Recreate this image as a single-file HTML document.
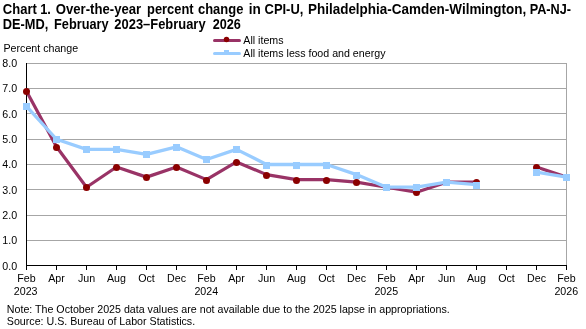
<!DOCTYPE html><html><head><meta charset="utf-8"><style>html,body{margin:0;padding:0;background:#fff;}svg{display:block;will-change:transform;}text{font-family:"Liberation Sans",sans-serif;fill:#000;}</style></head><body>
<svg width="586" height="329" viewBox="0 0 586 329">
<text x="2.87" y="14" font-size="13.75" font-weight="bold" textLength="33.99" lengthAdjust="spacingAndGlyphs">Chart</text>
<text x="40.19" y="14" font-size="13.75" font-weight="bold" textLength="10.66" lengthAdjust="spacingAndGlyphs">1.</text>
<text x="55.76" y="14" font-size="13.75" font-weight="bold" textLength="85.44" lengthAdjust="spacingAndGlyphs">Over-the-year</text>
<text x="147.05" y="14" font-size="13.75" font-weight="bold" textLength="46.51" lengthAdjust="spacingAndGlyphs">percent</text>
<text x="197.99" y="14" font-size="13.75" font-weight="bold" textLength="45.35" lengthAdjust="spacingAndGlyphs">change</text>
<text x="248.75" y="14" font-size="13.75" font-weight="bold" textLength="12.09" lengthAdjust="spacingAndGlyphs">in</text>
<text x="264.57" y="14" font-size="13.75" font-weight="bold" textLength="38.80" lengthAdjust="spacingAndGlyphs">CPI-U,</text>
<text x="308.00" y="14" font-size="13.75" font-weight="bold" textLength="218.20" lengthAdjust="spacingAndGlyphs">Philadelphia-Camden-Wilmington,</text>
<text x="529.67" y="14" font-size="13.75" font-weight="bold" textLength="41.43" lengthAdjust="spacingAndGlyphs">PA-NJ-</text>
<text x="2.84" y="28.7" font-size="13.75" font-weight="bold" textLength="45.51" lengthAdjust="spacingAndGlyphs">DE-MD,</text>
<text x="54.05" y="28.7" font-size="13.75" font-weight="bold" textLength="54.62" lengthAdjust="spacingAndGlyphs">February</text>
<text x="114.35" y="28.7" font-size="13.75" font-weight="bold" textLength="91.22" lengthAdjust="spacingAndGlyphs">2023–February</text>
<text x="212.66" y="28.7" font-size="13.75" font-weight="bold" textLength="28.09" lengthAdjust="spacingAndGlyphs">2026</text>
<text x="3.5" y="52" font-size="10.67">Percent change</text>
<rect x="27" y="240" width="540" height="1" fill="#A6A6A6"/>
<rect x="27" y="215" width="540" height="1" fill="#A6A6A6"/>
<rect x="27" y="189" width="540" height="1" fill="#A6A6A6"/>
<rect x="27" y="164" width="540" height="1" fill="#A6A6A6"/>
<rect x="27" y="139" width="540" height="1" fill="#A6A6A6"/>
<rect x="27" y="113" width="540" height="1" fill="#A6A6A6"/>
<rect x="27" y="88" width="540" height="1" fill="#A6A6A6"/>
<rect x="27" y="63" width="540" height="1" fill="#A6A6A6"/>
<rect x="566" y="63" width="1" height="202" fill="#A6A6A6"/>
<rect x="26" y="63" width="1" height="203" fill="#000"/>
<rect x="26" y="265" width="541" height="1" fill="#000"/>
<rect x="26" y="265" width="1" height="5" fill="#000"/>
<rect x="56" y="265" width="1" height="5" fill="#000"/>
<rect x="86" y="265" width="1" height="5" fill="#000"/>
<rect x="116" y="265" width="1" height="5" fill="#000"/>
<rect x="146" y="265" width="1" height="5" fill="#000"/>
<rect x="176" y="265" width="1" height="5" fill="#000"/>
<rect x="206" y="265" width="1" height="5" fill="#000"/>
<rect x="236" y="265" width="1" height="5" fill="#000"/>
<rect x="266" y="265" width="1" height="5" fill="#000"/>
<rect x="296" y="265" width="1" height="5" fill="#000"/>
<rect x="326" y="265" width="1" height="5" fill="#000"/>
<rect x="356" y="265" width="1" height="5" fill="#000"/>
<rect x="386" y="265" width="1" height="5" fill="#000"/>
<rect x="416" y="265" width="1" height="5" fill="#000"/>
<rect x="446" y="265" width="1" height="5" fill="#000"/>
<rect x="476" y="265" width="1" height="5" fill="#000"/>
<rect x="506" y="265" width="1" height="5" fill="#000"/>
<rect x="536" y="265" width="1" height="5" fill="#000"/>
<rect x="566" y="265" width="1" height="5" fill="#000"/>
<text x="17.2" y="270" font-size="10.67" text-anchor="end">0.0</text>
<text x="17.2" y="244" font-size="10.67" text-anchor="end">1.0</text>
<text x="17.2" y="219" font-size="10.67" text-anchor="end">2.0</text>
<text x="17.2" y="194" font-size="10.67" text-anchor="end">3.0</text>
<text x="17.2" y="168" font-size="10.67" text-anchor="end">4.0</text>
<text x="17.2" y="143" font-size="10.67" text-anchor="end">5.0</text>
<text x="17.2" y="118" font-size="10.67" text-anchor="end">6.0</text>
<text x="17.2" y="92" font-size="10.67" text-anchor="end">7.0</text>
<text x="17.2" y="67" font-size="10.67" text-anchor="end">8.0</text>
<text x="26.5" y="281.5" font-size="10.67" text-anchor="middle">Feb</text>
<text x="25.7" y="294.7" font-size="10.67" text-anchor="middle">2023</text>
<text x="56.5" y="281.5" font-size="10.67" text-anchor="middle">Apr</text>
<text x="86.5" y="281.5" font-size="10.67" text-anchor="middle">Jun</text>
<text x="116.5" y="281.5" font-size="10.67" text-anchor="middle">Aug</text>
<text x="146.5" y="281.5" font-size="10.67" text-anchor="middle">Oct</text>
<text x="176.5" y="281.5" font-size="10.67" text-anchor="middle">Dec</text>
<text x="206.5" y="281.5" font-size="10.67" text-anchor="middle">Feb</text>
<text x="206.3" y="294.7" font-size="10.67" text-anchor="middle">2024</text>
<text x="236.5" y="281.5" font-size="10.67" text-anchor="middle">Apr</text>
<text x="266.5" y="281.5" font-size="10.67" text-anchor="middle">Jun</text>
<text x="296.5" y="281.5" font-size="10.67" text-anchor="middle">Aug</text>
<text x="326.5" y="281.5" font-size="10.67" text-anchor="middle">Oct</text>
<text x="356.5" y="281.5" font-size="10.67" text-anchor="middle">Dec</text>
<text x="386.5" y="281.5" font-size="10.67" text-anchor="middle">Feb</text>
<text x="386.3" y="294.7" font-size="10.67" text-anchor="middle">2025</text>
<text x="416.5" y="281.5" font-size="10.67" text-anchor="middle">Apr</text>
<text x="446.5" y="281.5" font-size="10.67" text-anchor="middle">Jun</text>
<text x="476.5" y="281.5" font-size="10.67" text-anchor="middle">Aug</text>
<text x="506.5" y="281.5" font-size="10.67" text-anchor="middle">Oct</text>
<text x="536.5" y="281.5" font-size="10.67" text-anchor="middle">Dec</text>
<text x="566.5" y="281.5" font-size="10.67" text-anchor="middle">Feb</text>
<text x="566.3" y="294.7" font-size="10.67" text-anchor="middle">2026</text>
<polyline points="26.50,91.27 56.50,146.82 86.50,187.22 116.50,167.03 146.50,177.12 176.50,167.03 206.50,179.65 236.50,161.98 266.50,174.60 296.50,179.65 326.50,179.65 356.50,182.18 386.50,187.22 416.50,192.28 446.50,182.18 476.50,182.18" fill="none" stroke="#993366" stroke-width="3.2" stroke-linejoin="round"/>
<polyline points="536.50,167.03 566.50,177.12" fill="none" stroke="#993366" stroke-width="3.2" stroke-linejoin="round"/>
<circle cx="26.50" cy="91.50" r="3.5" fill="#8B0000"/>
<circle cx="56.50" cy="147.50" r="3.5" fill="#8B0000"/>
<circle cx="86.50" cy="187.50" r="3.5" fill="#8B0000"/>
<circle cx="116.50" cy="167.50" r="3.5" fill="#8B0000"/>
<circle cx="146.50" cy="177.50" r="3.5" fill="#8B0000"/>
<circle cx="176.50" cy="167.50" r="3.5" fill="#8B0000"/>
<circle cx="206.50" cy="180.50" r="3.5" fill="#8B0000"/>
<circle cx="236.50" cy="162.50" r="3.5" fill="#8B0000"/>
<circle cx="266.50" cy="175.50" r="3.5" fill="#8B0000"/>
<circle cx="296.50" cy="180.50" r="3.5" fill="#8B0000"/>
<circle cx="326.50" cy="180.50" r="3.5" fill="#8B0000"/>
<circle cx="356.50" cy="182.50" r="3.5" fill="#8B0000"/>
<circle cx="386.50" cy="187.50" r="3.5" fill="#8B0000"/>
<circle cx="416.50" cy="192.50" r="3.5" fill="#8B0000"/>
<circle cx="446.50" cy="182.50" r="3.5" fill="#8B0000"/>
<circle cx="476.50" cy="182.50" r="3.5" fill="#8B0000"/>
<circle cx="536.50" cy="167.50" r="3.5" fill="#8B0000"/>
<circle cx="566.50" cy="177.50" r="3.5" fill="#8B0000"/>
<polyline points="26.50,106.43 56.50,139.25 86.50,149.35 116.50,149.35 146.50,154.40 176.50,146.82 206.50,159.45 236.50,149.35 266.50,164.50 296.50,164.50 326.50,164.50 356.50,174.60 386.50,187.22 416.50,187.22 446.50,182.18 476.50,184.70" fill="none" stroke="#99CCFF" stroke-width="3.3" stroke-linejoin="round"/>
<polyline points="536.50,172.07 566.50,177.12" fill="none" stroke="#99CCFF" stroke-width="3.3" stroke-linejoin="round"/>
<rect x="23.00" y="103" width="7" height="7" fill="#99CCFF"/>
<rect x="53.00" y="136" width="7" height="7" fill="#99CCFF"/>
<rect x="83.00" y="146" width="7" height="7" fill="#99CCFF"/>
<rect x="113.00" y="146" width="7" height="7" fill="#99CCFF"/>
<rect x="143.00" y="151" width="7" height="7" fill="#99CCFF"/>
<rect x="173.00" y="144" width="7" height="7" fill="#99CCFF"/>
<rect x="203.00" y="156" width="7" height="7" fill="#99CCFF"/>
<rect x="233.00" y="146" width="7" height="7" fill="#99CCFF"/>
<rect x="263.00" y="162" width="7" height="7" fill="#99CCFF"/>
<rect x="293.00" y="162" width="7" height="7" fill="#99CCFF"/>
<rect x="323.00" y="162" width="7" height="7" fill="#99CCFF"/>
<rect x="353.00" y="172" width="7" height="7" fill="#99CCFF"/>
<rect x="383.00" y="184" width="7" height="7" fill="#99CCFF"/>
<rect x="413.00" y="184" width="7" height="7" fill="#99CCFF"/>
<rect x="443.00" y="179" width="7" height="7" fill="#99CCFF"/>
<rect x="473.00" y="182" width="7" height="7" fill="#99CCFF"/>
<rect x="533.00" y="169" width="7" height="7" fill="#99CCFF"/>
<rect x="563.00" y="174" width="7" height="7" fill="#99CCFF"/>
<line x1="214.5" y1="40.4" x2="239.5" y2="40.4" stroke="#993366" stroke-width="3" stroke-linecap="round"/>
<circle cx="226.5" cy="39.6" r="2.75" fill="#8B0000"/>
<text x="243.3" y="43.8" font-size="10.67">All items</text>
<line x1="214.5" y1="53.4" x2="239.5" y2="53.4" stroke="#99CCFF" stroke-width="3" stroke-linecap="round"/>
<rect x="224" y="50" width="5" height="5" fill="#99CCFF"/>
<text x="243.3" y="57" font-size="10.67">All items less food and energy</text>
<text x="6.8" y="312.5" font-size="10.67">Note: The October 2025 data values are not available due to the 2025 lapse in appropriations.</text>
<text x="6.8" y="324.7" font-size="10.67">Source: U.S. Bureau of Labor Statistics.</text>
</svg></body></html>
